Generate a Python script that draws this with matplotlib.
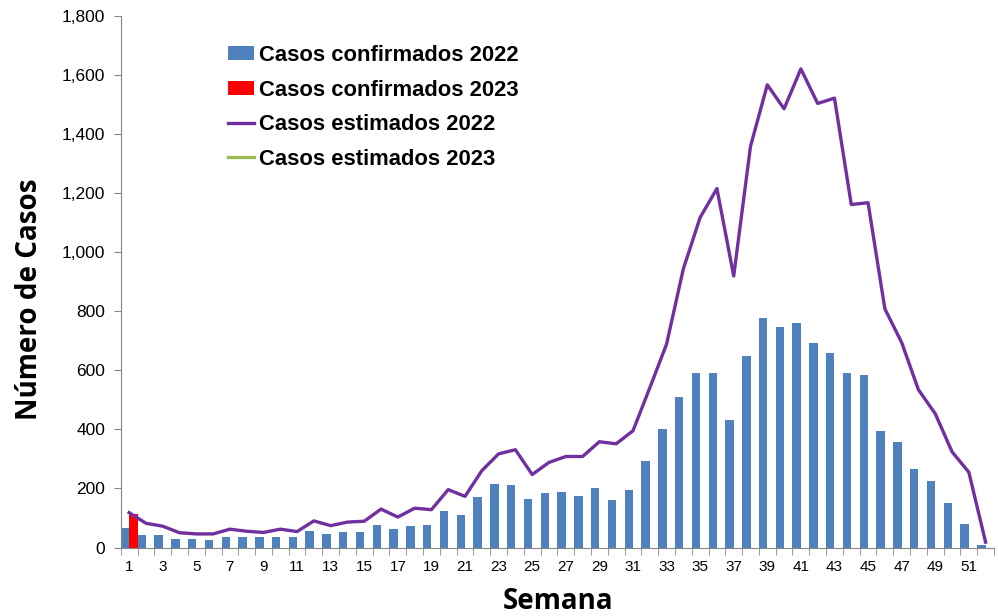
import numpy as np
import matplotlib.pyplot as plt
from matplotlib.ticker import FuncFormatter, MultipleLocator, FixedLocator

# Datos por semana epidemiológica
semanas = np.arange(1, 53)
confirmados_2022 = [65, 44, 44, 30, 30, 26, 37, 34, 37, 34, 37, 57, 47, 54, 54, 75,
                    62, 72, 75, 122, 111, 171, 214, 211, 165, 186, 189, 176, 200, 161,
                    196, 293, 402, 510, 590, 590, 432, 648, 776, 748, 761, 692, 659,
                    590, 583, 396, 356, 266, 225, 149, 78, 7]
semanas_2023 = [1]
confirmados_2023 = [112]
estimados_2022 = [118, 82, 72, 50, 46, 46, 62, 55, 51, 62, 54, 90, 74, 86, 89, 130,
                  103, 133, 128, 196, 173, 260, 317, 331, 247, 288, 308, 308, 358, 351,
                  395, 540, 688, 943, 1117, 1215, 919, 1358, 1566, 1485, 1620, 1503,
                  1521, 1161, 1167, 808, 694, 534, 453, 324, 255, 18]
estimados_2023 = [112]

azul = '#4F81BD'
rojo = '#FF0000'
morado = '#7030A0'
verde = '#9BBB59'
gris = '#868686'

plt.rcParams['font.family'] = ['Liberation Sans', 'DejaVu Sans']

fig = plt.figure(figsize=(9.98, 6.16), dpi=100)
ax = fig.add_axes([0.121, 0.1112, 0.875, 0.8633])

b1 = ax.bar(semanas - 0.25, confirmados_2022, width=0.5, color=azul,
            label='Casos confirmados 2022', zorder=2)
b2 = ax.bar(np.array(semanas_2023) + 0.25, confirmados_2023, width=0.5, color=rojo,
            label='Casos confirmados 2023', zorder=2)
l1, = ax.plot(semanas, estimados_2022, color=morado, linewidth=2.4,
              label='Casos estimados 2022', zorder=3)
l2, = ax.plot(semanas_2023, estimados_2023, color=verde, linewidth=2.4,
              label='Casos estimados 2023', zorder=3)

ax.set_xlim(0.5, 52.5)
ax.set_ylim(0, 1800)
ax.yaxis.set_major_locator(MultipleLocator(200))
ax.yaxis.set_major_formatter(FuncFormatter(lambda v, p: f'{v:,.0f}'))

# etiquetas en semanas impares, marcas en los límites de cada semana
ax.xaxis.set_major_locator(FixedLocator(semanas[::2]))
ax.xaxis.set_minor_locator(FixedLocator(np.arange(0.5, 53, 1)))
ax.tick_params(axis='x', which='major', length=0, labelsize=11, pad=9)
ax.tick_params(axis='x', which='minor', length=5, color=gris)
ax.tick_params(axis='y', length=5, color=gris, labelsize=12.5, pad=6)

for s in ['top', 'right']:
    ax.spines[s].set_visible(False)
for s in ['left', 'bottom']:
    ax.spines[s].set_color(gris)

fig.text(0.5591, 0.0114, 'Semana', ha='center', va='baseline',
         fontsize=20, fontweight='bold', family='Open Sans')
fig.text(0.030, 1 - 299 / 616, 'Número de Casos', ha='center', va='center',
         rotation=90, fontsize=20, fontweight='bold', family='Open Sans')

ax.legend(handles=[b1, b2, l1, l2], loc='upper left',
          bbox_to_anchor=(228 / 998, 1 - 45 / 616),
          bbox_transform=fig.transFigure, frameon=False, borderpad=0,
          borderaxespad=0, prop={'weight': 'bold', 'size': 15.8},
          handlelength=1.18, handleheight=0.6, handletextpad=0.22,
          labelspacing=0.62)

fig.savefig('out.png', dpi=100)
